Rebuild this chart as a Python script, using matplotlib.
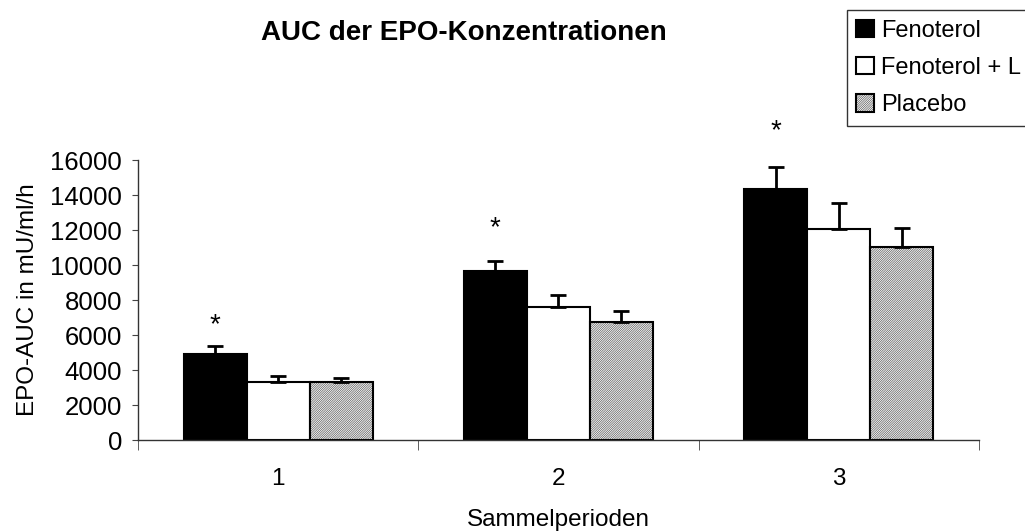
import matplotlib.pyplot as plt
import numpy as np

plt.rcParams['font.family'] = ['Liberation Sans', 'DejaVu Sans']
plt.rcParams['hatch.linewidth'] = 0.5

perioden = ['1', '2', '3']
gruppen = ['Fenoterol', 'Fenoterol + L', 'Placebo']
fenoterol = [4900, 9670, 14330]
fenoterol_err = [450, 560, 1290]
fenoterol_l = [3310, 7580, 12060]
fenoterol_l_err = [350, 700, 1500]
placebo = [3300, 6760, 11010]
placebo_err = [250, 630, 1090]
stern = [6570, 12110, 17660]

fig = plt.figure(figsize=(10.25, 5.32), dpi=100)
ax = fig.add_axes([0.1346, 0.1729, 0.8204, 0.5263])

x = np.arange(len(perioden))
w = 0.225
werte = [fenoterol, fenoterol_l, placebo]
fehler = [fenoterol_err, fenoterol_l_err, placebo_err]
faces = ['black', 'white', 'white']
hatches = [None, None, '///////////////']
for i in range(3):
    bars = ax.bar(x + (i - 1) * w, werte[i], w, color=faces[i], edgecolor='black',
                  linewidth=1.5, hatch=hatches[i], label=gruppen[i],
                  yerr=[np.zeros(3), fehler[i]], capsize=5.5,
                  error_kw=dict(elinewidth=2, capthick=2, ecolor='black'))
    if hatches[i]:
        for p in bars:
            p._hatch_color = (0.35, 0.35, 0.35, 1)

for xi, s in zip(x - w, stern):
    ax.text(xi, s, '*', ha='center', va='center', fontsize=20, clip_on=False)

ax.set_xlim(-0.5, 2.5)
ax.set_ylim(0, 16000)
ax.set_yticks(np.arange(0, 16001, 2000))
ax.set_xticks(x)
ax.set_xticklabels(perioden)
ax.set_xticks([-0.5, 0.5, 1.5, 2.5], minor=True)
ax.tick_params(axis='x', which='major', length=0, pad=20, labelsize=17.5)
ax.tick_params(axis='x', which='minor', length=7, direction='out', color='#444444')
ax.tick_params(axis='y', length=4.5, direction='out', color='#444444', labelsize=18.5, pad=7)
for s in ['top', 'right']:
    ax.spines[s].set_visible(False)
for s in ['left', 'bottom']:
    ax.spines[s].set_color('#333333')
    ax.spines[s].set_linewidth(1)

ax.set_ylabel('EPO-AUC in mU/ml/h', fontsize=17.5, labelpad=8)
ax.set_xlabel('Sammelperioden', fontsize=17.5, labelpad=14)
fig.text(0.255, 0.938, 'AUC der EPO-Konzentrationen', ha='left', va='center',
         fontsize=20, fontweight='bold')

leg = fig.legend(loc='upper left', bbox_to_anchor=(0.826, 0.981), fontsize=17,
                 frameon=True, fancybox=False, edgecolor='black',
                 handlelength=0.76, handleheight=0.76, handletextpad=0.3,
                 labelspacing=0.65, borderpad=0.4, borderaxespad=0)
leg.get_frame().set_linewidth(1)

fig.savefig('out.png', dpi=100)
